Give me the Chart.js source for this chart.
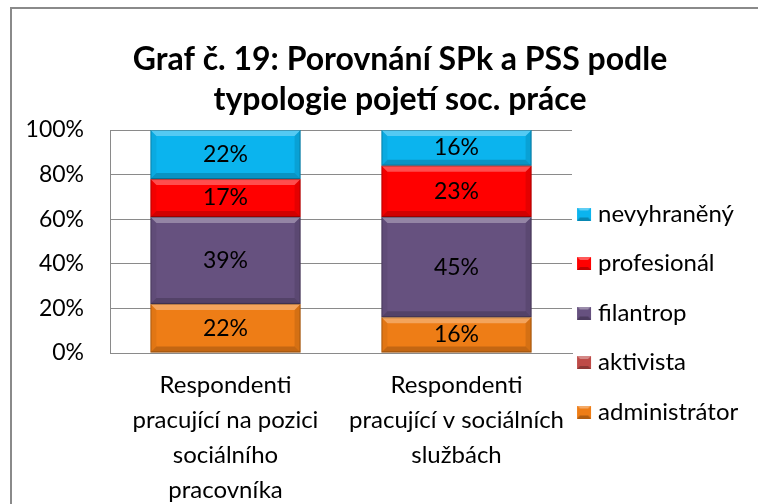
<!DOCTYPE html>
<html lang="cs">
<head>
<meta charset="utf-8">
<title>Graf č. 19</title>
<script src="https://cdn.jsdelivr.net/npm/chart.js@4.4.1/dist/chart.umd.min.js"></script>
<style>
  html, body { margin: 0; padding: 0; background: #fff; }
  #wrap { position: relative; width: 758px; height: 504px; overflow: hidden; }
  #frame {
    position: absolute; left: 10px; top: 7px; width: 800px; height: 600px;
    border-left: 2px solid #8a8a8a; border-top: 2px solid #8a8a8a;
  }
  canvas { position: absolute; left: 0; top: 0; }
</style>
</head>
<body>
<div id="wrap">
  <div id="frame"></div>
  <canvas id="chart" width="758" height="504"></canvas>
</div>
<script>
"use strict";

const categories = [
  ["Respondenti", "pracující na pozici", "sociálního", "pracovníka"],
  ["Respondenti", "pracující v sociálních", "službách"],
];
const seriesNames = ["administrátor", "aktivista", "filantrop", "profesionál", "nevyhraněný"];
const administrator = [22, 16];
const aktivista = [0, 0];
const filantrop = [39, 45];
const profesional = [17, 23];
const nevyhraneny = [22, 16];
const yTicks = [0, 20, 40, 60, 80, 100];

const colors = ["#EE7D16", "#BE4B48", "#66517F", "#FF0000", "#0BB4EE"];
const font = "Lato";

Chart.defaults.color = "#000";
Chart.defaults.font.family = font;

// bevelled legend squares, drawn on the right part of a wider transparent canvas
function swatch(color) {
  const c = document.createElement("canvas");
  c.width = 30;
  c.height = 13;
  const g = c.getContext("2d");
  const x0 = 6, x1 = 20, h = 13;
  g.fillStyle = color;
  g.fillRect(x0, 0, x1 - x0, h);
  g.fillStyle = "rgba(255,255,255,0.35)";
  g.beginPath(); g.moveTo(x0, 0); g.lineTo(x1, 0); g.lineTo(x1 - 3, 3); g.lineTo(x0 + 3, 3); g.fill();
  g.fillStyle = "rgba(0,0,0,0.25)";
  g.beginPath(); g.moveTo(x0, h); g.lineTo(x1, h); g.lineTo(x1 - 3, h - 3); g.lineTo(x0 + 3, h - 3); g.fill();
  return c;
}
const swatches = colors.map(swatch);

function bevel(ctx, x0, x1, top, bot) {
  const b = Math.min(6, (bot - top) / 2);
  const poly = (pts, fill) => {
    ctx.fillStyle = fill;
    ctx.beginPath();
    ctx.moveTo(pts[0][0], pts[0][1]);
    pts.slice(1).forEach((p) => ctx.lineTo(p[0], p[1]));
    ctx.closePath();
    ctx.fill();
  };
  poly([[x0, top], [x1, top], [x1 - b, top + b], [x0 + b, top + b]], "rgba(255,255,255,0.3)");
  poly([[x0, bot], [x1, bot], [x1 - b, bot - b], [x0 + b, bot - b]], "rgba(0,0,0,0.18)");
  poly([[x0, top], [x0 + b, top + b], [x0 + b, bot - b], [x0, bot]], "rgba(0,0,0,0.05)");
  poly([[x1, top], [x1 - b, top + b], [x1 - b, bot - b], [x1, bot]], "rgba(0,0,0,0.1)");
  ctx.strokeStyle = "rgba(0,0,0,0.25)";
  ctx.lineWidth = 1;
  ctx.strokeRect(x0 + 0.5, top + 0.5, x1 - x0 - 1, bot - top - 1);
}

const barDecor = {
  id: "barDecor",
  beforeLayout(chart) {
    // fixed legend width so the plot always ends at the same x
    const lg = chart.legend;
    if (!lg._fixedFit) {
      const fit = lg.fit.bind(lg);
      lg.fit = function () {
        fit();
        this.width = 186;
      };
      lg._fixedFit = true;
    }
  },
  afterLayout(chart) {
    // legend sits lower and closer to the plot than Chart.js puts it,
    // and the title is centred a bit right of the canvas middle
    const lg = chart.legend;
    lg.top = 122;
    lg.left -= 11.5;
    lg.right = chart.width;
    chart.titleBlock.left += 21;
    chart.titleBlock.right += 21;
  },
  afterDatasetsDraw(chart) {
    const ctx = chart.ctx;
    ctx.save();
    chart.data.datasets.forEach((ds, i) => {
      chart.getDatasetMeta(i).data.forEach((bar, j) => {
        if (!ds.data[j]) return;
        const top = Math.min(bar.y, bar.base);
        const bot = Math.max(bar.y, bar.base);
        bevel(ctx, bar.x - bar.width / 2, bar.x + bar.width / 2, top, bot);
      });
    });
    ctx.font = "23px " + font;
    ctx.fillStyle = "#000";
    ctx.textAlign = "center";
    ctx.textBaseline = "middle";
    chart.data.datasets.forEach((ds, i) => {
      chart.getDatasetMeta(i).data.forEach((bar, j) => {
        const v = ds.data[j];
        if (!v) return;
        ctx.fillText(v + "%", bar.x, (bar.y + bar.base) / 2);
      });
    });
    ctx.restore();
  },
};

const seriesData = [administrator, aktivista, filantrop, profesional, nevyhraneny];

new Chart(document.getElementById("chart"), {
  type: "bar",
  data: {
    labels: categories,
    datasets: seriesNames.map((name, i) => ({
      label: name,
      data: seriesData[i],
      backgroundColor: colors[i],
      borderWidth: 0,
      categoryPercentage: 1,
      barPercentage: 0.65,
    })),
  },
  options: {
    responsive: false,
    animation: false,
    layout: { padding: { left: 0, right: 0, top: 0, bottom: 0 } },
    scales: {
      x: {
        stacked: true,
        grid: { display: false, drawTicks: false },
        border: { color: "#8a8a8a", width: 1 },
        ticks: {
          font: { size: 24, family: font, lineHeight: 1.46 },
          padding: 14.5,
          maxRotation: 0,
        },
        afterFit: (scale) => { scale.height = 151; },
      },
      y: {
        stacked: true,
        min: 0,
        max: 100,
        afterBuildTicks: (scale) => { scale.ticks = yTicks.map((v) => ({ value: v })); },
        grid: { color: "#8a8a8a", drawTicks: false },
        border: { color: "#8a8a8a", width: 1 },
        ticks: {
          font: { size: 23, family: font },
          padding: 26,
          callback: (v) => v + "%",
        },
        afterFit: (scale) => { scale.width = 110; },
      },
    },
    plugins: {
      title: {
        display: true,
        text: ["Graf č. 19: Porovnání SPk a PSS podle", "typologie pojetí soc. práce"],
        font: { size: 32, weight: "bold", family: font, lineHeight: 1.25 },
        color: "#000",
        padding: { top: 40, bottom: 10 },
      },
      legend: {
        position: "right",
        reverse: true,
        labels: {
          usePointStyle: true,
          pointStyleWidth: 0.01,
          padding: 25.5,
          font: { size: 24, family: font },
          generateLabels: (chart) =>
            Chart.defaults.plugins.legend.labels.generateLabels(chart).map((item) => ({
              ...item,
              pointStyle: swatches[item.datasetIndex],
            })),
        },
      },
      tooltip: { enabled: false },
    },
  },
  plugins: [barDecor],
});
</script>
</body>
</html>
